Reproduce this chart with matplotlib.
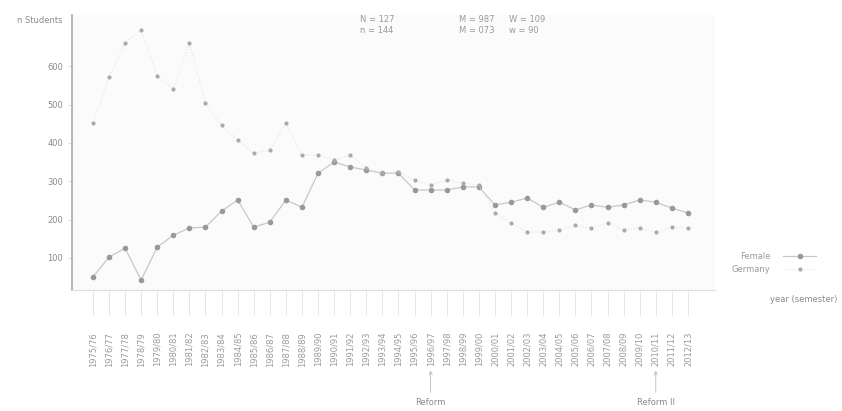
import numpy as np
import matplotlib.pyplot as plt

# category labels (academic years)
years = ['%d/%02d' % (y, (y + 1) % 100) for y in range(1975, 2013)]

# series values
female = [50, 102, 125, 42, 128, 159, 178, 180, 222, 251, 180, 193, 251, 232,
          321, 350, 337, 329, 321, 321, 277, 277, 277, 285, 285, 238, 245, 256,
          232, 245, 225, 238, 232, 238, 251, 245, 230, 217]
germany = [452, 572, 661, 695, 574, 540, 661, 504, 446, 407, 373, 381, 452, 368,
           368, 355, 368, 334, 321, 324, 303, 290, 303, 295, 290, 217, 191, 167,
           167, 172, 185, 178, 191, 172, 178, 167, 180, 178]

yticks = [100, 200, 300, 400, 500, 600]
events = {21: 'Reform', 35: 'Reform II'}

fig = plt.figure(figsize=(8.42, 4.11), dpi=100)
ax = fig.add_axes([0.0855, 0.294, 0.764, 0.669])
ax.set_facecolor('#fbfbfb')

x = np.arange(len(years))
ax.plot(x, female, color='#c8c8c8', lw=0.9, marker='o', ms=3,
        mfc='#999999', mec='#999999', label='Female')
ax.plot(x, germany, color='#e4e4e4', lw=0.8, ls=':', marker='o', ms=2,
        mfc='#aaaaaa', mec='#aaaaaa', label='Germany')

ax.set_xlim(-1.3, 38.7)
ax.set_ylim(15.7, 733)
ax.set_yticks(yticks)
ax.set_xticks(x)
ax.set_xticklabels(years, rotation=90, fontsize=6, color='#9a9a9a')
ax.tick_params(axis='x', length=18, width=0.5, color='#dddddd', pad=12)
ax.tick_params(axis='y', length=3, width=0.5, color='#cccccc', labelsize=6,
               labelcolor='#8a8a8a')

for s in ['top', 'right']:
    ax.spines[s].set_visible(False)
ax.spines['left'].set_color('#aaaaaa')
ax.spines['left'].set_linewidth(1.2)
ax.spines['bottom'].set_color('#dddddd')

fig.text(0.02, 0.945, 'n Students', fontsize=6, color='#8a8a8a')
fig.text(0.915, 0.265, 'year (semester)', fontsize=6, color='#8a8a8a')

fig.text(0.428, 0.92, 'N = 127\nn = 144', fontsize=6, color='#9a9a9a',
         linespacing=1.3)
fig.text(0.545, 0.92, 'M = 987\nM = 073', fontsize=6, color='#9a9a9a',
         linespacing=1.3)
fig.text(0.605, 0.92, 'W = 109\nw = 90', fontsize=6, color='#9a9a9a',
         linespacing=1.3)

leg = fig.legend(loc='center left', bbox_to_anchor=(0.86, 0.36), frameon=False,
                 fontsize=6, labelcolor='#9a9a9a', handlelength=4,
                 handletextpad=1.5, markerfirst=False)

for i, name in events.items():
    ax.annotate(name, xy=(i, 0.105), xytext=(i, 0.01),
                xycoords=('data', 'figure fraction'),
                textcoords=('data', 'figure fraction'),
                ha='center', va='bottom', fontsize=6, color='#8a8a8a',
                annotation_clip=False,
                arrowprops=dict(arrowstyle='->', color='#bbbbbb', lw=0.6))

fig.savefig('out.png', dpi=100)
